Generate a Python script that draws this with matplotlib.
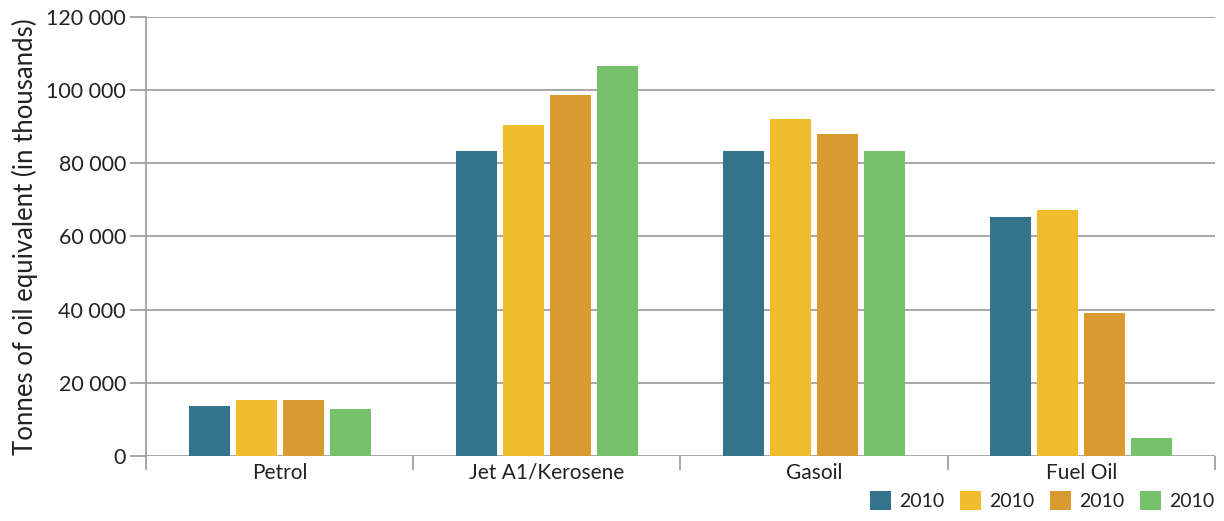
import matplotlib
matplotlib.use("Agg")
import matplotlib.pyplot as plt
import numpy as np

# Данные по видам топлива
categories = ["Petrol", "Jet A1/Kerosene", "Gasoil", "Fuel Oil"]
series_labels = ["2010", "2010", "2010", "2010"]
values = [
    [13700, 83400, 83400, 65300],
    [15300, 90500, 92100, 67200],
    [15300, 98700, 87900, 39100],
    [12800, 106600, 83400, 4900],
]
colors = ["#33738b", "#f0bc2c", "#d99a30", "#76c26a"]
yticks = [0, 20000, 40000, 60000, 80000, 100000, 120000]

plt.rcParams["font.family"] = ["Lato", "DejaVu Sans"]
plt.rcParams["text.color"] = "#222222"

fig = plt.figure(figsize=(12.24, 5.21), dpi=100)
ax = fig.add_axes([0.1193, 0.1248, 0.8733, 0.8426])

x = np.arange(len(categories))
step = 0.176
width = 0.154
for i, (vals, col, lab) in enumerate(zip(values, colors, series_labels)):
    ax.bar(x + (i - 1.5) * step, vals, width=width, color=col, label=lab, zorder=3)

ax.set_xlim(-0.5, len(categories) - 0.5)
ax.set_ylim(0, 120000)
ax.set_yticks(yticks)
ax.set_yticklabels([f"{v:,}".replace(",", " ") for v in yticks], fontsize=15.5, color="#222222")
ax.set_xticks(x)
ax.set_xticklabels(categories, fontsize=15, color="#222222")
ax.set_xticks(np.arange(-0.5, len(categories)), minor=True)

ax.grid(axis="y", color="#a0a0a0", linewidth=1.3, zorder=0)
ax.tick_params(axis="y", length=11.5, color="#a0a0a0", width=1.3, pad=3)
ax.tick_params(axis="x", which="major", length=0, pad=5)
ax.tick_params(axis="x", which="minor", length=10, color="#a0a0a0", width=1.3)

for s in ["top", "right", "bottom"]:
    ax.spines[s].set_visible(False)
ax.spines["left"].set_color("#a0a0a0")
ax.spines["left"].set_linewidth(1.3)
ax.spines["left"].set_bounds(0, 120000)

ax.set_ylabel("Tonnes of oil equivalent (in thousands)", fontsize=18.5, color="#222222", labelpad=6)

fig.legend(loc="lower right", bbox_to_anchor=(1.0, 0.002), ncol=4, frameon=False,
           borderpad=0, fontsize=14, handlelength=1.1, handleheight=1.1,
           handletextpad=0.4, columnspacing=0.8)

fig.savefig("out.png", dpi=100)
